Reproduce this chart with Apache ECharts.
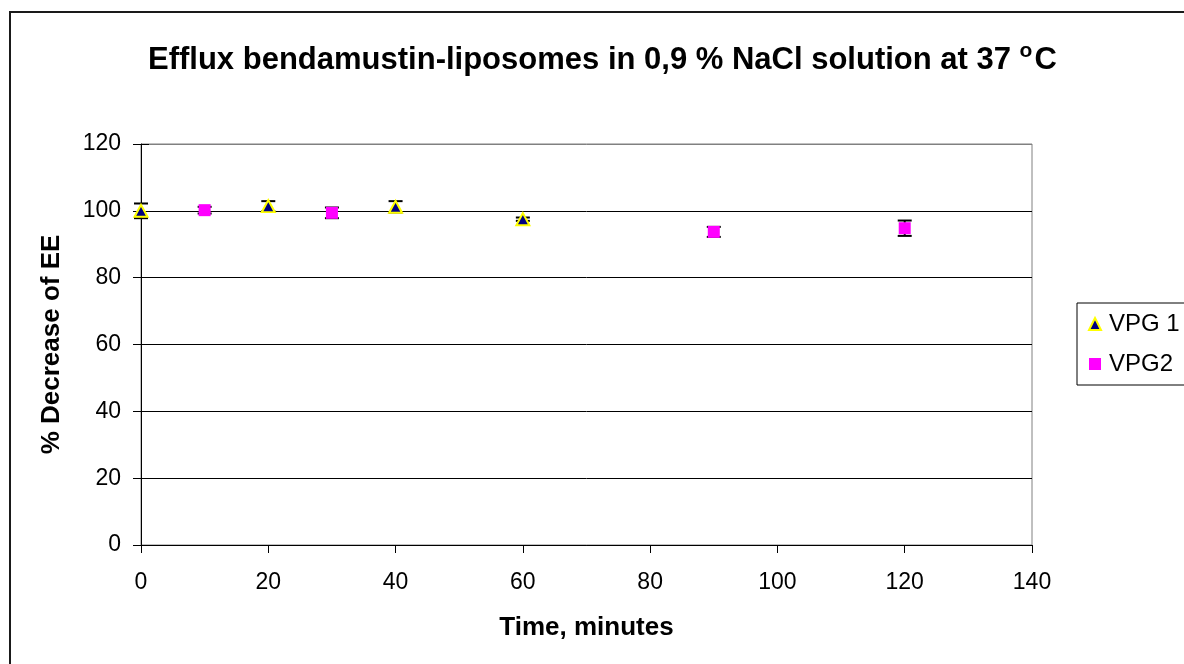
<!DOCTYPE html>
<html><head><meta charset="utf-8">
<script src="https://cdn.jsdelivr.net/npm/echarts@6/dist/echarts.min.js"></script>
<style>html,body{margin:0;padding:0;background:#fff}#c{width:1184px;height:664px}</style>
</head><body><div id="c"></div>
<script>
// Data
const vpg1X = [0, 20, 40, 60];
const vpg1Y = [100.0, 101.4, 101.2, 97.5];
const vpg1Err = [2.2, 1.5, 1.7, 0.5];
const vpg2X = [10, 30, 90, 120];
const vpg2Y = [100.2, 99.4, 93.7, 94.8];
const vpg2Err = [1.0, 1.6, 1.5, 2.3];
const seriesNames = ['VPG 1', 'VPG2'];

const FONT = '"Liberation Sans", Arial, sans-serif';
function pts(xs, ys) { return xs.map((x, i) => [x, ys[i]]); }
function errs(xs, ys, es) { return xs.map((x, i) => [x, ys[i] - es[i], ys[i] + es[i]]); }

function errRender(params, api) {
  const x = api.value(0);
  const lo = api.coord([x, api.value(1)]);
  const hi = api.coord([x, api.value(2)]);
  const w = 7;
  const st = { stroke: '#000', lineWidth: 2 };
  return { type: 'group', children: [
    { type: 'line', shape: { x1: lo[0], y1: lo[1], x2: hi[0], y2: hi[1] }, style: st },
    { type: 'line', shape: { x1: lo[0] - w, y1: lo[1], x2: lo[0] + w, y2: lo[1] }, style: st },
    { type: 'line', shape: { x1: hi[0] - w, y1: hi[1], x2: hi[0] + w, y2: hi[1] }, style: st }
  ]};
}

const chart = echarts.init(document.getElementById('c'));
chart.setOption({
  animation: false,
  backgroundColor: '#fff',
  textStyle: { fontFamily: FONT },
  title: {
    text: '{a|Efflux bendamustin-liposomes in 0,9 % NaCl solution at 37 }{s|o}{a|C}',
    left: 143, top: 36,
    textStyle: {
      rich: {
        a: { fontFamily: FONT, fontSize: 31, fontWeight: 'bold', color: '#000', lineHeight: 38 },
        s: { fontFamily: FONT, fontSize: 21, fontWeight: 'bold', color: '#000', lineHeight: 38, verticalAlign: 'top', padding: [0, 2, 6, 0] }
      }
    }
  },
  graphic: [{
    type: 'rect', silent: true, z: 100,
    shape: { x: 10, y: 12, width: 1200, height: 700 },
    style: { fill: 'none', stroke: '#1a1a1a', lineWidth: 2 }
  }],
  legend: {
    data: seriesNames,
    orient: 'vertical',
    left: 1077, top: 303,
    padding: [9, 40, 9, 11],
    itemGap: 16,
    itemWidth: 12, itemHeight: 12,
    borderColor: '#000', borderWidth: 1,
    textStyle: { fontFamily: FONT, fontSize: 24, color: '#000', padding: [0, 0, 0, 3] }
  },
  grid: { left: 141, right: 152, top: 144, bottom: 119, show: true, borderColor: '#808080', borderWidth: 1 },
  xAxis: {
    type: 'value', min: 0, max: 140, interval: 20,
    name: 'Time, minutes', nameLocation: 'middle', nameGap: 70,
    nameTextStyle: { fontFamily: FONT, fontSize: 26, fontWeight: 'bold', color: '#000' },
    axisLine: { show: true, lineStyle: { color: '#000', width: 1 } },
    axisTick: { show: true, length: 8, lineStyle: { color: '#000' } },
    axisLabel: { fontFamily: FONT, fontSize: 23, color: '#000', margin: 26 },
    splitLine: { show: false }
  },
  yAxis: [{
    type: 'value', min: 0, max: 120, interval: 20,
    name: '% Decrease of EE', nameLocation: 'middle', nameGap: 76,
    nameTextStyle: { fontFamily: FONT, fontSize: 26, fontWeight: 'bold', color: '#000' },
    axisLine: { show: true, lineStyle: { color: '#000', width: 1 } },
    axisTick: { show: true, length: 8, lineStyle: { color: '#000' } },
    axisLabel: { fontFamily: FONT, fontSize: 23, color: '#000', margin: 20 },
    splitLine: { show: true, lineStyle: { color: ['#000', '#000', '#000', '#000', '#000', '#000', '#808080'], width: 1 } }
  }, {
    type: 'value', min: 0, max: 120, interval: 20, position: 'left',
    axisLine: { show: false },
    axisTick: { show: true, inside: true, length: 8, lineStyle: { color: '#000' } },
    axisLabel: { show: false },
    splitLine: { show: false }
  }],
  series: [
    { name: 'VPG 1 err', type: 'custom', renderItem: errRender, data: errs(vpg1X, vpg1Y, vpg1Err), z: 2, silent: true },
    { name: 'VPG2 err', type: 'custom', renderItem: errRender, data: errs(vpg2X, vpg2Y, vpg2Err), z: 2, silent: true },
    { name: seriesNames[0], type: 'scatter', data: pts(vpg1X, vpg1Y), symbol: 'triangle', symbolSize: [13, 12], z: 5,
      itemStyle: { color: '#000080', borderColor: '#FFFF00', borderWidth: 2, opacity: 1 } },
    { name: seriesNames[1], type: 'scatter', data: pts(vpg2X, vpg2Y), symbol: 'rect', symbolSize: 12, z: 5,
      itemStyle: { color: '#FF00FF', opacity: 1 } }
  ]
});
</script></body></html>
